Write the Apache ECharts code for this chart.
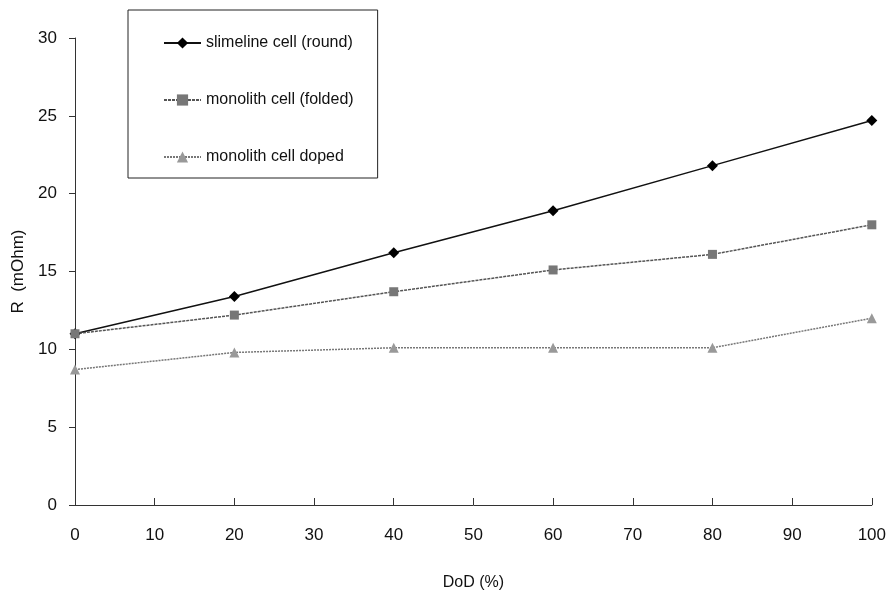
<!DOCTYPE html>
<html><head><meta charset="utf-8">
<script src="https://cdn.jsdelivr.net/npm/echarts@6/dist/echarts.min.js"></script>
<style>html,body{margin:0;padding:0;background:#fff}#c{width:889px;height:601px}</style>
</head><body><div id="c"></div>
<script>
const dod = [0, 20, 40, 60, 80, 100];
const slimeline = [11.0, 13.4, 16.2, 18.9, 21.8, 24.7];
const folded = [11.0, 12.2, 13.7, 15.1, 16.1, 18.0];
const doped = [8.7, 9.8, 10.1, 10.1, 10.1, 12.0];
const names = ['slimeline cell (round)', 'monolith cell (folded)', 'monolith cell doped'];
const pairs = a => dod.map((x, i) => [x, a[i]]);
const font = '"Liberation Sans", Arial, sans-serif';
const chart = echarts.init(document.getElementById('c'));
chart.setOption({
  animation: false,
  backgroundColor: '#fff',
  grid: {left: 75, right: 16, top: 38, bottom: 96},
  legend: {
    orient: 'vertical', left: 128, top: 10,
    padding: [25, 24, 13, 35], itemGap: 41,
    itemWidth: 37, itemHeight: 14,
    borderColor: '#222', borderWidth: 1,
    textStyle: {fontFamily: font, fontSize: 16, color: '#111'},
    data: names
  },
  xAxis: {
    type: 'value', min: 0, max: 100, interval: 10,
    name: 'DoD (%)', nameLocation: 'middle', nameGap: 70,
    nameTextStyle: {fontFamily: font, fontSize: 16, color: '#111'},
    axisLine: {lineStyle: {color: '#333', width: 1}},
    axisTick: {inside: true, length: 7, lineStyle: {color: '#333'}},
    axisLabel: {fontFamily: font, fontSize: 17, color: '#111', margin: 22},
    splitLine: {show: false}
  },
  yAxis: {
    type: 'value', min: 0, max: 30, interval: 5,
    name: 'R  (mOhm)', nameLocation: 'middle', nameGap: 46,
    nameTextStyle: {fontFamily: font, fontSize: 17, color: '#111'},
    axisLine: {show: true, lineStyle: {color: '#333', width: 1}},
    axisTick: {show: true, length: 6, lineStyle: {color: '#333'}},
    axisLabel: {fontFamily: font, fontSize: 17, color: '#111', margin: 18},
    splitLine: {show: false}
  },
  series: [
    {name: names[0], type: 'line', data: pairs(slimeline), symbol: 'diamond', symbolSize: 11,
     itemStyle: {color: '#000'}, lineStyle: {color: '#111', width: 1.5}},
    {name: names[1], type: 'line', data: pairs(folded), symbol: 'rect', symbolSize: 9,
     itemStyle: {color: '#777'}, lineStyle: {color: '#555', width: 1.5, type: [3, 1]}},
    {name: names[2], type: 'line', data: pairs(doped), symbol: 'triangle', symbolSize: 10,
     itemStyle: {color: '#999'}, lineStyle: {color: '#777', width: 1.5, type: [2, 1]}}
  ]
});
</script></body></html>
